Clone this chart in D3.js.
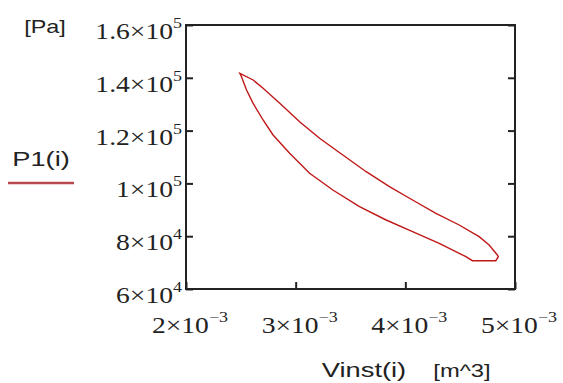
<!DOCTYPE html>
<html>
<head>
<meta charset="utf-8">
<script src="https://cdn.jsdelivr.net/npm/d3@7"></script>
<style>
html,body{margin:0;padding:0;background:#fff;}
svg{display:block;}
</style>
</head>
<body>
<svg id="chart" width="563" height="383"></svg>
<script>
// ---- data ----
const upperV = [2.491e-3, 2.612e-3, 2.703e-3, 2.855e-3, 3.036e-3, 3.218e-3, 3.430e-3, 3.643e-3, 3.855e-3, 4.066e-3, 4.279e-3, 4.491e-3, 4.673e-3, 4.764e-3, 4.839e-3];
const upperP = [141710, 139170, 136025, 130343, 123373, 117085, 110759, 104433, 98751, 93713, 88675, 84243, 79811, 76667, 72879];
const lowerV = [4.848e-3, 4.825e-3, 4.612e-3, 4.552e-3, 4.309e-3, 4.066e-3, 3.825e-3, 3.582e-3, 3.339e-3, 3.127e-3, 2.945e-3, 2.794e-3, 2.703e-3, 2.612e-3, 2.552e-3, 2.506e-3];
const lowerP = [72235, 70720, 70720, 72235, 77311, 81705, 86137, 91175, 97501, 103827, 111403, 118335, 124017, 130343, 135381, 140419];

const xTicks = [2e-3, 3e-3, 4e-3, 5e-3];
const xTickMant = ["2", "3", "4", "5"];
const xTickExp = ["\u22123", "\u22123", "\u22123", "\u22123"];
const yTicks = [6e4, 8e4, 1e5, 1.2e5, 1.4e5, 1.6e5];
const yTickMant = ["6", "8", "1", "1.2", "1.4", "1.6"];
const yTickExp = ["4", "4", "5", "5", "5", "5"];

const xTitle = "Vinst(i)";
const xUnit = "[m^3]";
const yTitle = "P1(i)";
const yUnit = "[Pa]";

// ---- layout ----
const svg = d3.select("#chart");
const L = 186, R = 515, T = 25, B = 289;
const x = d3.scaleLinear().domain([2e-3, 5e-3]).range([L, R]);
const y = d3.scaleLinear().domain([6e4, 1.6e5]).range([B, T]);
const SX = 1.2; // horizontal stretch of text in reference
const serif = "'Liberation Serif','Times New Roman',serif";
const sans = "'Liberation Sans',Arial,sans-serif";

// curve
const pts = upperV.map((v, i) => [v, upperP[i]]).concat(lowerV.map((v, i) => [v, lowerP[i]]));
svg.append("path")
  .datum(pts)
  .attr("d", d3.line().x(d => x(d[0])).y(d => y(d[1])).curve(d3.curveLinearClosed))
  .attr("fill", "none")
  .attr("stroke", "#c01818")
  .attr("stroke-width", 1.4);

// axes (ticks only, inward)
const tickLen = 7;
const axL = svg.append("g").attr("transform", `translate(${L},0)`)
  .call(d3.axisLeft(y).tickValues(yTicks).tickSize(-tickLen).tickFormat(""));
const axR = svg.append("g").attr("transform", `translate(${R},0)`)
  .call(d3.axisRight(y).tickValues(yTicks).tickSize(-tickLen).tickFormat(""));
const axB = svg.append("g").attr("transform", `translate(0,${B})`)
  .call(d3.axisBottom(x).tickValues(xTicks).tickSize(-tickLen).tickFormat(""));
[axL, axR, axB].forEach(g => {
  g.select(".domain").remove();
  g.selectAll(".tick line").attr("stroke", "#222").attr("stroke-width", 2);
});
// frame
svg.append("rect")
  .attr("x", L).attr("y", T).attr("width", R - L).attr("height", B - T)
  .attr("fill", "none").attr("stroke", "#222").attr("stroke-width", 2);

function sciLabel(px, py, mant, exp, anchor) {
  const g = svg.append("g").attr("transform", `translate(${px},${py}) scale(${SX},1)`);
  const t = g.append("text")
    .attr("font-family", serif).attr("font-size", 23).attr("fill", "#222")
    .attr("text-anchor", anchor);
  t.append("tspan").text(mant + "\u00d710");
  t.append("tspan").attr("font-size", 15).attr("dy", -11).text(exp);
}

yTicks.forEach((v, i) => sciLabel(182, y(v) + 14, yTickMant[i], yTickExp[i], "end"));
xTicks.forEach((v, i) => sciLabel(x(v) + 4, 333, xTickMant[i], xTickExp[i], "middle"));

function plainText(px, py, str, size, anchor, sx) {
  svg.append("g").attr("transform", `translate(${px},${py}) scale(${sx},1)`)
    .append("text")
    .attr("font-family", sans).attr("font-size", size).attr("fill", "#222")
    .attr("text-anchor", anchor).text(str);
}
plainText(45, 33, yUnit, 18, "middle", 1.3);
plainText(41, 166, yTitle, 21, "middle", 1.3);
plainText(364, 377, xTitle, 21, "middle", 1.3);
plainText(462, 377, xUnit, 19, "middle", 1.25);

// legend line under y title
svg.append("line")
  .attr("x1", 8).attr("x2", 74).attr("y1", 183).attr("y2", 183)
  .attr("stroke", "#b84a4e").attr("stroke-width", 2.5);
</script>
</body>
</html>
